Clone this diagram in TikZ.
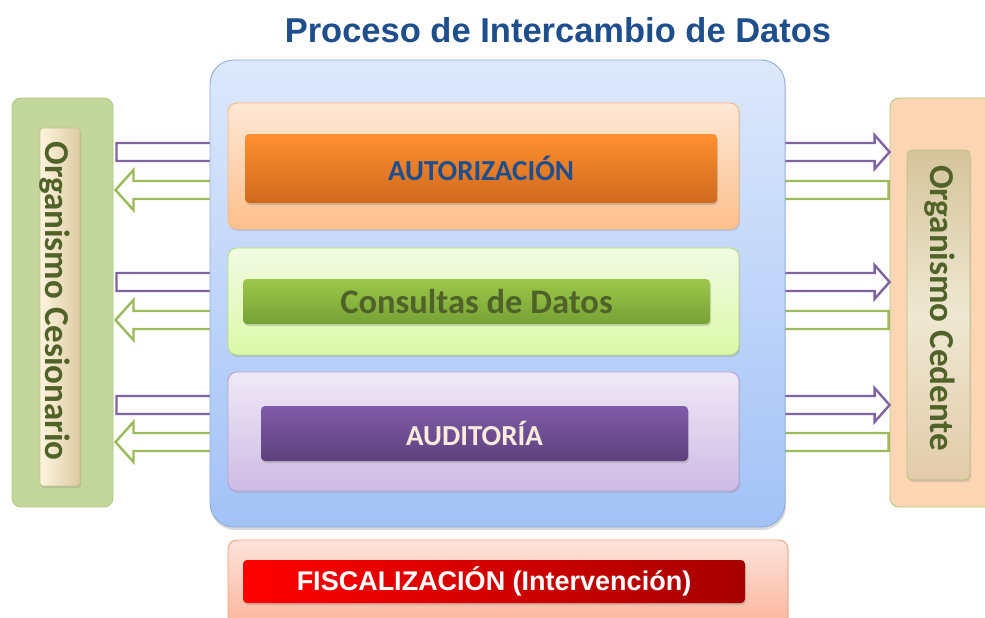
\documentclass[tikz,border=0pt]{standalone}
\usepackage{fontspec}
\setmainfont{Liberation Sans}
\newfontfamily\calibri{Carlito}
\usetikzlibrary{shadows,calc}
\definecolor{titleblue}{HTML}{1F4E8C}
\definecolor{darkgreen}{HTML}{4F6228}
\definecolor{pline}{HTML}{8064A2}
\definecolor{gline}{HTML}{9BBB59}
\definecolor{cesfill}{HTML}{C3D69B}
\definecolor{cesdraw}{HTML}{B0CB80}
\definecolor{cesbarl}{HTML}{FEF3DD}
\definecolor{cesbarr}{HTML}{DCCBA3}
\definecolor{cesbard}{HTML}{C9C08F}
\definecolor{cedfill}{HTML}{FCD5B5}
\definecolor{ceddraw}{HTML}{AFC978}
\definecolor{cedbart}{HTML}{D5C49B}
\definecolor{cedbarm}{HTML}{EEE8D2}
\definecolor{cedbarb}{HTML}{E2CBAA}
\definecolor{cedbard}{HTML}{B2C47E}
\definecolor{cent}{HTML}{DDE8FB}
\definecolor{cenb}{HTML}{A2C2F6}
\definecolor{cend}{HTML}{8EADDB}
\definecolor{autpt}{HTML}{FEE8D6}
\definecolor{autpb}{HTML}{FCBF8B}
\definecolor{autpd}{HTML}{F9B985}
\definecolor{autbt}{HTML}{FF9030}
\definecolor{autbb}{HTML}{CF691E}
\definecolor{conpt}{HTML}{F1FBE2}
\definecolor{conpb}{HTML}{DCF8A8}
\definecolor{conpd}{HTML}{B6DA7E}
\definecolor{conbt}{HTML}{9DC84A}
\definecolor{conbb}{HTML}{76A135}
\definecolor{audpt}{HTML}{EFE9F6}
\definecolor{audpb}{HTML}{CDBBE5}
\definecolor{audpd}{HTML}{B5A2D0}
\definecolor{audbt}{HTML}{7F5BA8}
\definecolor{audbb}{HTML}{5E417D}
\definecolor{audtext}{HTML}{FDEADA}
\definecolor{fispt}{HTML}{FEE3DA}
\definecolor{fispb}{HTML}{FBA88A}
\definecolor{fispd}{HTML}{F7A07A}
\definecolor{fisbl}{HTML}{FF0000}
\definecolor{fisbr}{HTML}{A60000}
\newcommand\purplearrow[1]{%
  \draw[parrow] let \p1=(ces.east), \p2=(ced.west) in
    (\x1+3,#1-9) -- (\x2-15,#1-9) -- (\x2-15,#1-17) -- (\x2,#1) --
    (\x2-15,#1+17) -- (\x2-15,#1+9) -- (\x1+3,#1+9) -- cycle;}
\newcommand\greenarrow[1]{%
  \draw[garrow] let \p1=(ces.east), \p2=(ced.west) in
    (\x2-1,#1-9) -- (\x1+20,#1-9) -- (\x1+20,#1-20) -- (\x1+2,#1) --
    (\x1+20,#1+20) -- (\x1+20,#1+9) -- (\x2-1,#1+9) -- cycle;}
\begin{document}
\begin{tikzpicture}[x=1pt,y=-1pt,
  box/.style={rectangle, inner sep=0pt, line width=0.9pt},
  panel/.style={box, rounded corners=9pt, drop shadow={opacity=0.25,shadow xshift=1pt,shadow yshift=-2pt}},
  bar/.style={box, rounded corners=4pt, draw=none, drop shadow={opacity=0.3,shadow xshift=1pt,shadow yshift=-2pt}},
  parrow/.style={draw=pline, line width=2.4pt, fill=white, line join=miter},
  garrow/.style={draw=gline, line width=2.4pt, fill=white, line join=miter},
  vlabel/.style={rotate=-90, text=darkgreen, font=\calibri\bfseries\fontsize{35}{40}\selectfont, inner sep=0pt},
  blabel/.style={font=\calibri\bfseries\fontsize{29}{34}\selectfont, inner sep=0pt}
]
\useasboundingbox (0,0) rectangle (985,618);
\fill[white] (0,0) rectangle (985,618);

% title
\node[font=\bfseries\fontsize{34.5}{39}\selectfont, text=titleblue, inner sep=0pt] (title) at (558,30) {Proceso de Intercambio de Datos};

% side boxes
\node[box, rounded corners=9pt, fill=cesfill, draw=cesdraw, minimum width=101pt, minimum height=409pt] (ces) at (62.5,302.5) {};
\node[box, rounded corners=3pt, left color=cesbarl, right color=cesbarr, draw=cesbard, minimum width=40pt, minimum height=358pt, drop shadow={opacity=0.25,shadow xshift=1pt,shadow yshift=-2pt}] (cesbar) at (60,307) {};
\node[vlabel] (cestext) at (55,301) {Organismo Cesionario};

\node[box, rounded corners=9pt, fill=cedfill, draw=ceddraw, minimum width=110pt, minimum height=409pt] (ced) at (945,302.5) {};
\node[box, rounded corners=5pt, top color=cedbart, bottom color=cedbarb, middle color=cedbarm, draw=cedbard, minimum width=63pt, minimum height=330pt, drop shadow={opacity=0.25,shadow xshift=1pt,shadow yshift=-2pt}] (cedbar) at (938.5,315) {};
\node[vlabel] (cedtext) at (940,308) {Organismo Cedente};

% block arrows (behind the central box)
\purplearrow{152}
\greenarrow{190}
\purplearrow{282}
\greenarrow{320}
\purplearrow{405}
\greenarrow{442}

% central box
\node[box, rounded corners=24pt, top color=cent, bottom color=cenb, draw=cend, minimum width=575pt, minimum height=467pt, drop shadow={opacity=0.3,shadow xshift=1pt,shadow yshift=-3pt}] (central) at (497.5,293.5) {};

% authorization
\node[panel, top color=autpt, bottom color=autpb, draw=autpd, minimum width=511pt, minimum height=126pt] (autpanel) at (483.5,166) {};
\node[bar, top color=autbt, bottom color=autbb, minimum width=472pt, minimum height=69pt] (autbar) at (481,168.5) {};
\node[blabel, text=titleblue] (auttext) at (autbar.center) {AUTORIZACIÓN};

% consultas
\node[panel, top color=conpt, bottom color=conpb, draw=conpd, minimum width=511pt, minimum height=107pt] (conpanel) at (483.5,301.5) {};
\node[bar, top color=conbt, bottom color=conbb, minimum width=467pt, minimum height=45pt] (conbar) at (476.5,301.5) {};
\node[font=\calibri\bfseries\fontsize{34.5}{38}\selectfont, inner sep=0pt, text=darkgreen] (context) at (conbar.center) {Consultas de Datos};

% auditoria
\node[panel, top color=audpt, bottom color=audpb, draw=audpd, minimum width=511pt, minimum height=119pt] (audpanel) at (483.5,431.5) {};
\node[bar, top color=audbt, bottom color=audbb, minimum width=427pt, minimum height=55pt] (audbar) at (474.5,433.5) {};
\node[blabel, text=audtext] (audtext) at (audbar.center) {AUDITORÍA};

% fiscalizacion
\node[panel, top color=fispt, bottom color=fispb, draw=fispd, minimum width=560pt, minimum height=110pt] (fispanel) at (508,595) {};
\node[bar, left color=fisbl, right color=fisbr, minimum width=502pt, minimum height=43pt] (fisbar) at (494,581.5) {};
\node[font=\bfseries\fontsize{27}{31}\selectfont, text=white, inner sep=0pt] (fistext) at (fisbar.center) {FISCALIZACIÓN (Intervención)};
\end{tikzpicture}
\end{document}
